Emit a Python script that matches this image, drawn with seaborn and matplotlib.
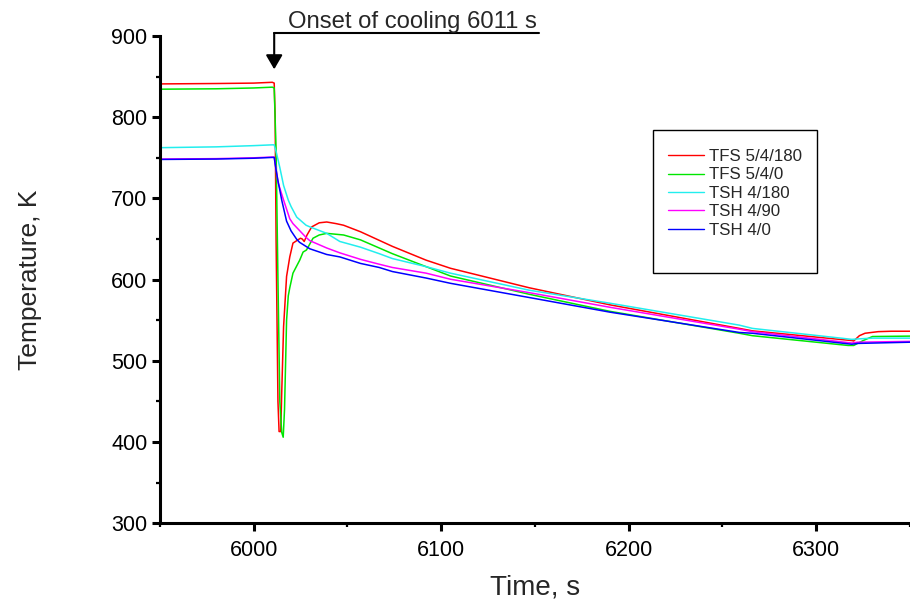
import matplotlib
matplotlib.use("Agg")
import matplotlib.pyplot as plt
import seaborn as sns
import pandas as pd
from matplotlib.ticker import MultipleLocator
from matplotlib.patches import Rectangle

# ---------------- data ----------------
series_names = ["TFS 5/4/180", "TFS 5/4/0", "TSH 4/180", "TSH 4/90", "TSH 4/0"]
series_colors = ["#ff0000", "#00e600", "#22eeee", "#ff00ff", "#0000ff"]

red_t = [5950, 5980, 6000, 6010, 6011, 6011.5, 6012, 6013, 6013.6, 6014.5, 6015, 6016,
         6017.6, 6019.3, 6021, 6023, 6025, 6026, 6027, 6028.5, 6031, 6035, 6039, 6044,
         6048, 6057, 6074, 6092, 6105, 6147, 6190, 6259, 6266, 6319, 6320, 6323, 6326,
         6333, 6340, 6350]
red_T = [841, 841.5, 842, 843, 842, 800, 650, 450, 413, 413, 460, 542,
         604, 628, 645, 648, 651, 650, 647, 655, 665, 670, 671, 669,
         667, 659, 641, 624, 614, 590, 569, 540, 537, 525, 524.5, 531, 534,
         536, 536.5, 536.5]

green_t = [5950, 5980, 6000, 6010, 6011, 6012, 6013, 6014, 6015, 6015.8, 6016.5, 6017.6,
           6018.5, 6019.3, 6021, 6024.6, 6026.4, 6028.2, 6031.7, 6035, 6039, 6048, 6057,
           6074, 6092, 6105, 6147, 6190, 6259, 6266, 6317, 6320, 6325, 6330, 6350]
green_T = [834.5, 835, 836, 837, 836, 760, 600, 450, 412, 406, 440, 550,
           580, 590, 608, 624, 634, 636.5, 651, 655, 657, 655, 649,
           632, 616, 604.5, 582, 561, 534, 531, 519, 519, 525, 530, 530.5]

cyan_t = [5950, 5980, 6000, 6010, 6011, 6012, 6014, 6016, 6018.5, 6020, 6023, 6028,
          6030, 6039, 6046, 6057, 6067, 6074, 6092, 6105, 6147, 6190, 6259, 6266,
          6319, 6322, 6330, 6350]
cyan_T = [762.5, 763.5, 765, 766, 766, 758, 738, 716, 698, 690, 677, 667,
          665, 657, 647, 640, 632, 626, 616, 608, 587, 571, 544, 540,
          526.5, 527, 528, 528]

mag_t = [5950, 5980, 6000, 6010, 6011, 6012, 6013, 6016, 6018, 6019.3, 6021, 6028,
         6030, 6039, 6046, 6057, 6067, 6074, 6092, 6105, 6147, 6190, 6259, 6266,
         6319, 6322, 6350]
mag_T = [748.5, 749, 750, 751, 751, 736, 720, 698, 684, 675, 669, 652,
         648, 639, 633, 625, 619, 615, 608, 600.5, 584, 566, 539, 536,
         522, 523, 524]

blue_t = [5950, 5980, 6000, 6010, 6011, 6012, 6013, 6015, 6017.6, 6020, 6022.9, 6024.5,
          6030, 6039, 6046, 6057, 6067, 6074, 6092, 6105, 6147, 6190, 6259, 6266,
          6319, 6322, 6350]
blue_T = [748, 748.5, 749.5, 750.5, 750.5, 735, 722, 698, 672, 660, 650, 646,
          638, 631, 628, 620, 615, 610, 602, 595.5, 578, 560, 535, 534,
          520.5, 521.5, 523]

x_major_ticks = [6000, 6100, 6200, 6300]
y_major_ticks = [300, 400, 500, 600, 700, 800, 900]

# ---------------- build table ----------------
frames = []
for name, t, T in zip(series_names,
                      [red_t, green_t, cyan_t, mag_t, blue_t],
                      [red_T, green_T, cyan_T, mag_T, blue_T]):
    frames.append(pd.DataFrame({"Time": t, "Temp": T, "Series": name}))
df = pd.concat(frames, ignore_index=True)

# ---------------- style ----------------
sns.set_style("ticks")
plt.rcParams["font.family"] = ["Liberation Sans", "DejaVu Sans"]

fig = plt.figure(figsize=(9.1, 6.05), dpi=100)
ax = fig.add_axes([0.1756, 0.135, 0.8244, 0.8055])

sns.lineplot(data=df, x="Time", y="Temp", hue="Series", hue_order=series_names,
             palette=series_colors, estimator=None, sort=False, linewidth=1.1,
             ax=ax, legend=False)

ax.set_xlim(5950, 6350)
ax.set_ylim(300, 900)
ax.set_xticks(x_major_ticks)
ax.set_yticks(y_major_ticks)
ax.xaxis.set_minor_locator(MultipleLocator(50))
ax.yaxis.set_minor_locator(MultipleLocator(50))

for side in ["top", "right"]:
    ax.spines[side].set_visible(False)
for side in ["left", "bottom"]:
    ax.spines[side].set_linewidth(2.2)
    ax.spines[side].set_color("black")

ax.tick_params(axis="both", which="major", length=6, width=2.2, colors="black",
               labelsize=15.5, direction="out")
ax.tick_params(axis="both", which="minor", length=3, width=1.6, colors="black",
               direction="out")
ax.tick_params(axis="x", which="major", pad=6)
ax.tick_params(axis="y", which="major", pad=3)

ax.set_xlabel("Time, s", fontsize=20, labelpad=10)
ax.set_ylabel("Temperature, K", fontsize=19, labelpad=50)

# legend
handles = [plt.Line2D([], [], color=c, lw=1.0) for c in series_colors]
leg = ax.legend(handles, series_names, loc="upper left",
                bbox_to_anchor=(0.6774, 0.768), frameon=False, fontsize=12.2,
                handlelength=2.1, handletextpad=0.35, labelspacing=0.2,
                borderaxespad=0.0, borderpad=0.0)
rect = Rectangle((653 / 910, 1 - 273 / 605), (817 - 653) / 910, (273 - 130) / 605,
                 transform=fig.transFigure, fill=False, edgecolor="black",
                 linewidth=1.0, zorder=5)
fig.patches.append(rect)

# annotation
ax.annotate("", xy=(6011, 859), xytext=(6011, 903.5),
            arrowprops=dict(arrowstyle="-|>,head_length=0.6,head_width=0.35",
                            mutation_scale=14.4, color="black", lw=1.5,
                            shrinkA=0, shrinkB=0),
            annotation_clip=False)
ax.plot([6011, 6152], [903.5, 903.5], color="black", lw=1.5, clip_on=False)
ax.text(6018.3, 909.5, "Onset of cooling 6011 s", fontsize=17.2, ha="left",
        va="baseline", clip_on=False)

fig.savefig("out.png", dpi=100)
